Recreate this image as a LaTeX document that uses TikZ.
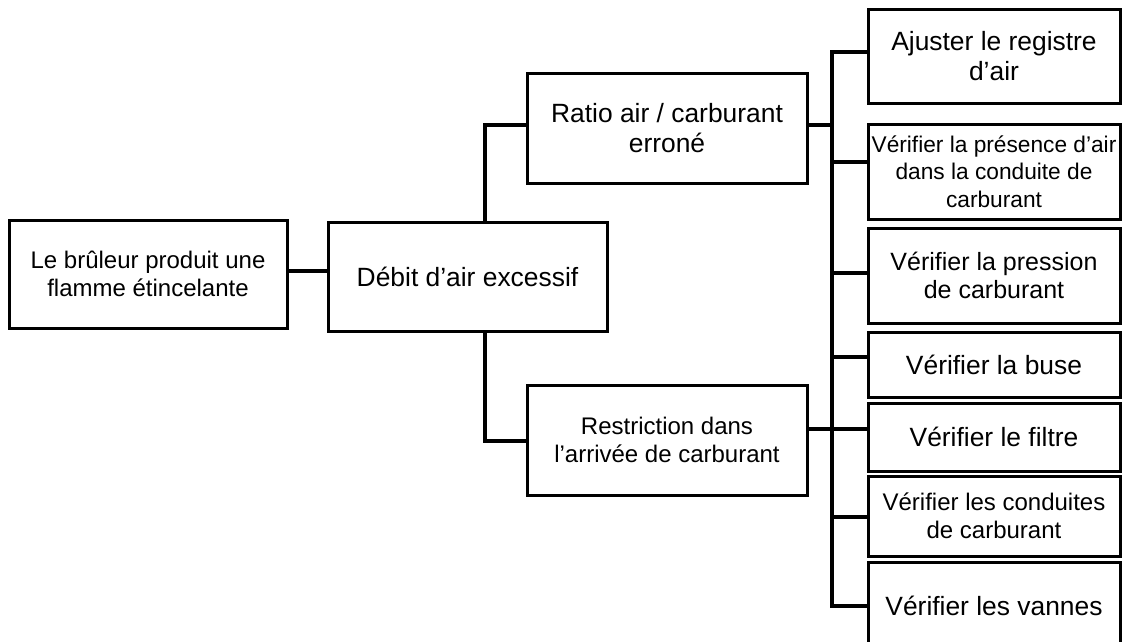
\documentclass[tikz,border=0pt]{standalone}
\usepackage{fontspec}
\setmainfont{Liberation Sans}
\usetikzlibrary{calc}
\begin{document}
\begin{tikzpicture}[x=1pt,y=-1pt,
  box/.style={draw, line width=3pt, rectangle, inner sep=0pt, align=center},
  conn/.style={line width=3.2pt},
  fbig/.style={font=\fontsize{26.4}{30.4}\selectfont},
  fmid/.style={font=\fontsize{24}{27.6}\selectfont},
  fpr/.style={font=\fontsize{25}{28.8}\selectfont},
  fsm/.style={font=\fontsize{22.7}{27.4}\selectfont},
  leaf/.style={box, minimum width=252pt}]
\useasboundingbox (0,0) rectangle (1122,641);
\clip (0,0) rectangle (1122,641);

\node[box, fmid, minimum width=278pt, minimum height=108pt] (root) at (148,274) {Le brûleur produit une\\flamme étincelante};
\node[box, fbig, minimum width=279pt, minimum height=109pt] (debit) at (467.5,276.5) {Débit d’air excessif};
\node[box, fbig, minimum width=280pt, minimum height=110pt] (ratio) at (667,128) {Ratio air / carburant\\erroné};
\node[box, fmid, minimum width=280pt, minimum height=110pt] (restr) at (667,440) {Restriction dans\\l’arrivée de carburant};

\node[leaf, fbig, minimum height=94pt] (b1) at (994,56) {Ajuster le registre\\d’air};
\node[leaf, fsm, minimum height=95pt] (b2) at (994,171.5) {Vérifier la présence d’air\\dans la conduite de\\carburant};
\node[leaf, fpr, minimum height=95pt] (b3) at (994,275.5) {Vérifier la pression\\de carburant};
\node[leaf, fbig, minimum height=65pt] (b4) at (994,364.5) {Vérifier la buse};
\node[leaf, fbig, minimum height=68pt] (b5) at (994,437) {Vérifier le filtre};
\node[leaf, fmid, minimum height=80pt] (b6) at (994,516) {Vérifier les conduites\\de carburant};
\node[leaf, fbig, minimum height=88pt] (b7) at (994,606) {Vérifier les vannes};

\coordinate (bus) at (832,0);
\coordinate (stemup) at ($(debit.north)+(17.5,0)$);
\coordinate (stemdn) at ($(debit.south)+(17.5,0)$);

\draw[conn] (root.east |- 0,271) -- (debit.west |- 0,271);
\draw[conn] (stemup) |- ($(ratio.west)+(0,-3)$);
\draw[conn] (stemdn) |- ($(restr.west)+(0,1)$);
\draw[conn] ($(ratio.east)+(0,-3)$) -- (bus |- 0,125);
\draw[conn] ($(restr.east)+(0,-11)$) -- (bus |- 0,429);

\draw[conn] ($(b1.west)+(0,-4)$) -- (bus |- 0,52) -- (bus |- b7.west) -- (b7.west);
\draw[conn] (bus |- 0,162) -- (b2.west |- 0,162);
\draw[conn] (bus |- 0,273) -- (b3.west |- 0,273);
\draw[conn] (bus |- 0,357) -- (b4.west |- 0,357);
\draw[conn] (bus |- 0,429) -- (b5.west |- 0,429);
\draw[conn] (bus |- 0,517) -- (b6.west |- 0,517);
\end{tikzpicture}
\end{document}
